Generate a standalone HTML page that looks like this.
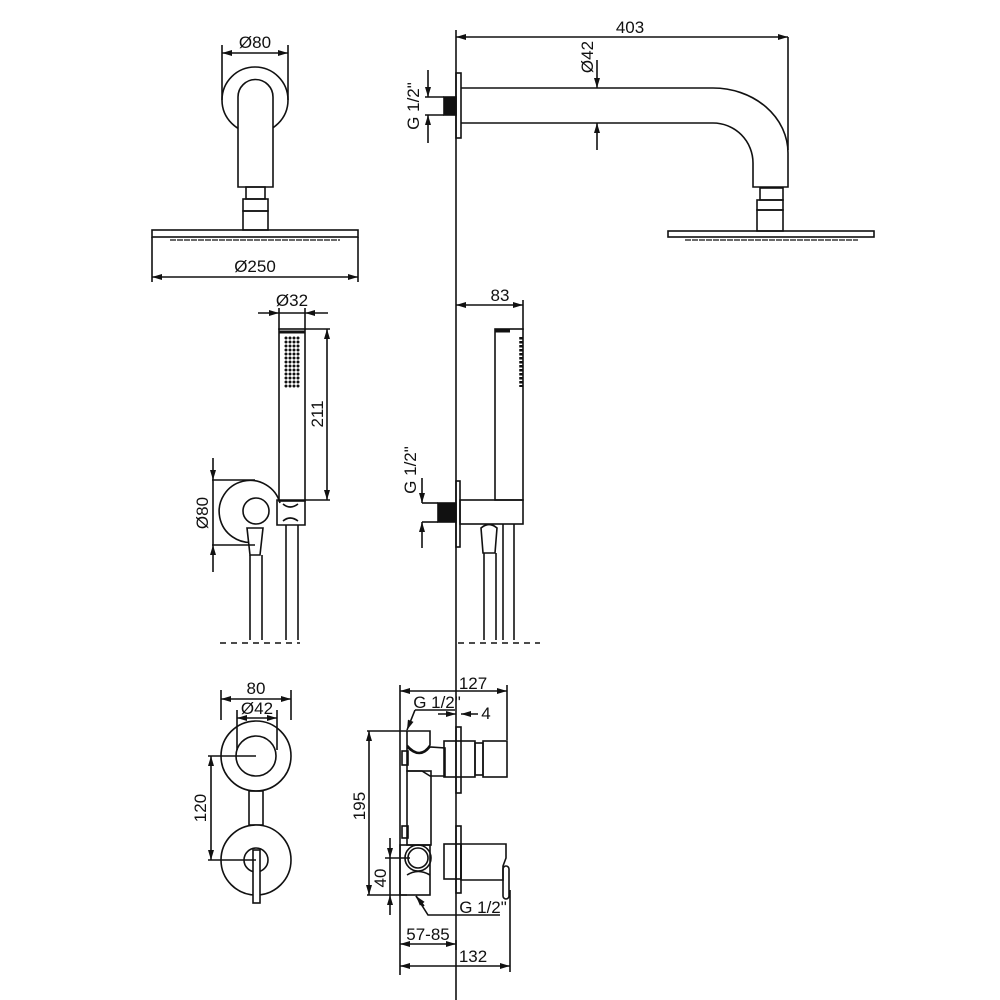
<!DOCTYPE html>
<html><head><meta charset="utf-8"><style>
html,body{margin:0;padding:0;background:#fff;width:1000px;height:1000px;overflow:hidden}
svg{display:block}
text{font-family:"Liberation Sans Narrow","Liberation Sans",sans-serif;font-size:17px;fill:#111;font-stretch:condensed}
</style></head><body>
<svg width="1000" height="1000" viewBox="0 0 1000 1000" xmlns="http://www.w3.org/2000/svg">
<defs>
<marker id="a" viewBox="0 0 10 6" refX="10" refY="3" markerWidth="11" markerHeight="6" orient="auto-start-reverse" markerUnits="userSpaceOnUse"><path d="M0,0L10,3L0,6z" fill="#111"/></marker>
<pattern id="dots" x="284" y="336" width="4" height="4" patternUnits="userSpaceOnUse"><circle cx="2" cy="2" r="1.5" fill="#111"/></pattern>
</defs>
<g fill="none" stroke="#111" stroke-width="1.6">
<line x1="222" y1="45" x2="222" y2="100"/><line x1="288" y1="45" x2="288" y2="100"/>
<line x1="222" y1="53" x2="288" y2="53" marker-start="url(#a)" marker-end="url(#a)"/>
<circle cx="255" cy="100" r="33"/>
<path d="M238,187V97a17.5,17.5 0 0 1 35,0V187z" fill="#fff"/>
<rect x="246" y="187" width="19" height="12"/><rect x="243" y="199" width="25" height="12"/><rect x="243" y="211" width="25" height="19"/>
<rect x="152" y="230" width="206" height="7"/>
<line x1="170" y1="240" x2="340" y2="240" stroke-dasharray="6 1" stroke-width="1.2"/>
<line x1="152" y1="237" x2="152" y2="282"/><line x1="358" y1="237" x2="358" y2="282"/>
<line x1="152" y1="277" x2="358" y2="277" marker-start="url(#a)" marker-end="url(#a)"/>

<line x1="456" y1="30" x2="456" y2="1000"/>
<line x1="456" y1="37" x2="788" y2="37" marker-start="url(#a)" marker-end="url(#a)"/>
<line x1="788" y1="37" x2="788" y2="150"/>
<rect x="456" y="73" width="5" height="65"/>
<rect x="444" y="97" width="12" height="18" fill="#111"/>
<line x1="425" y1="97" x2="444" y2="97"/><line x1="425" y1="115" x2="444" y2="115"/>
<line x1="428" y1="70" x2="428" y2="97" marker-end="url(#a)"/><line x1="428" y1="143" x2="428" y2="115" marker-end="url(#a)"/>
<path d="M461,88H713A75,65 0 0 1 788,153V187H753V163A40,40 0 0 0 713,123H461"/>
<line x1="597" y1="60" x2="597" y2="88" marker-end="url(#a)"/><line x1="597" y1="150" x2="597" y2="123" marker-end="url(#a)"/>
<rect x="760" y="188" width="23" height="12"/><rect x="757" y="200" width="26" height="10"/><rect x="757" y="210" width="26" height="21"/>
<rect x="668" y="231" width="206" height="6"/>
<line x1="685" y1="240" x2="858" y2="240" stroke-dasharray="6 1" stroke-width="1.2"/>

<line x1="279" y1="308" x2="279" y2="330"/><line x1="305" y1="308" x2="305" y2="330"/>
<line x1="258" y1="313" x2="279" y2="313" marker-end="url(#a)"/><line x1="328" y1="313" x2="305" y2="313" marker-end="url(#a)"/>
<line x1="279" y1="313" x2="305" y2="313"/>
<rect x="279" y="329" width="26" height="172"/>
<line x1="279" y1="332" x2="305" y2="332" stroke-width="3"/>
<rect x="284" y="336" width="16" height="52" fill="url(#dots)" stroke="none"/>
<line x1="305" y1="329" x2="330" y2="329"/><line x1="305" y1="500" x2="330" y2="500"/>
<line x1="327" y1="329" x2="327" y2="500" marker-start="url(#a)" marker-end="url(#a)"/>
<path d="M280,503A31,31 0 1 0 255,542" />
<circle cx="256" cy="511" r="13"/>
<path d="M277,500H305V525H277z"/><path d="M283,504Q290,510 298,504M283,521Q290,515 298,521"/>
<path d="M247,528H263L260,555H250z" fill="#fff"/>
<line x1="250" y1="555" x2="250" y2="640"/><line x1="262" y1="555" x2="262" y2="640"/>
<line x1="286" y1="525" x2="286" y2="640"/><line x1="298" y1="525" x2="298" y2="640"/>
<line x1="220" y1="643" x2="300" y2="643" stroke-dasharray="6 5"/>
<line x1="212" y1="480" x2="255" y2="480"/><line x1="212" y1="545" x2="255" y2="545"/>
<line x1="213" y1="458" x2="213" y2="480" marker-end="url(#a)"/><line x1="213" y1="572" x2="213" y2="545" marker-end="url(#a)"/>
<line x1="213" y1="480" x2="213" y2="545"/>

<line x1="456" y1="305" x2="523" y2="305" marker-start="url(#a)" marker-end="url(#a)"/>
<line x1="523" y1="300" x2="523" y2="330"/>
<rect x="495" y="329" width="28" height="171"/>
<line x1="495" y1="331" x2="510" y2="331" stroke-width="3"/>
<g stroke-width="3.5" stroke-dasharray="2.5 1.5"><line x1="521" y1="337" x2="521" y2="387"/></g>
<rect x="456" y="481" width="4" height="66"/>
<rect x="438" y="503" width="18" height="19" fill="#111"/>
<line x1="422" y1="503" x2="438" y2="503"/><line x1="422" y1="522" x2="438" y2="522"/>
<line x1="422" y1="478" x2="422" y2="503" marker-end="url(#a)"/><line x1="422" y1="548" x2="422" y2="522" marker-end="url(#a)"/>
<rect x="460" y="500" width="63" height="24"/>
<path d="M481,528Q489,521 497,528L495,553H483z" fill="#fff"/>
<line x1="484" y1="553" x2="484" y2="640"/><line x1="496" y1="553" x2="496" y2="640"/>
<line x1="503" y1="524" x2="503" y2="640"/><line x1="514" y1="524" x2="514" y2="640"/>
<line x1="458" y1="643" x2="540" y2="643" stroke-dasharray="6 5"/>

<line x1="221" y1="690" x2="221" y2="720"/><line x1="291" y1="690" x2="291" y2="720"/>
<line x1="221" y1="699" x2="291" y2="699" marker-start="url(#a)" marker-end="url(#a)"/>
<line x1="237" y1="710" x2="237" y2="750"/><line x1="277" y1="710" x2="277" y2="750"/>
<line x1="237" y1="718" x2="277" y2="718" marker-start="url(#a)" marker-end="url(#a)"/>
<circle cx="256" cy="756" r="35"/><circle cx="256" cy="756" r="20"/>
<rect x="249" y="791" width="14" height="34"/>
<circle cx="256" cy="860" r="35" fill="#fff"/><circle cx="256" cy="860" r="12"/>
<rect x="253" y="850" width="7" height="53" fill="#fff"/>
<line x1="208" y1="756" x2="256" y2="756"/><line x1="208" y1="860" x2="256" y2="860"/>
<line x1="211" y1="756" x2="211" y2="860" marker-start="url(#a)" marker-end="url(#a)"/>

<line x1="400" y1="685" x2="400" y2="975"/><line x1="507" y1="685" x2="507" y2="740"/>
<line x1="400" y1="691" x2="507" y2="691" marker-start="url(#a)" marker-end="url(#a)"/>
<line x1="415" y1="710" x2="455" y2="710"/><line x1="415" y1="710" x2="407" y2="730" marker-end="url(#a)"/>
<line x1="438" y1="714" x2="456" y2="714" marker-end="url(#a)"/><line x1="478" y1="714" x2="461" y2="714" marker-end="url(#a)"/>
<rect x="456" y="727" width="5" height="66"/><rect x="456" y="826" width="5" height="67"/>
<line x1="367" y1="731" x2="407" y2="731"/><line x1="367" y1="895" x2="407" y2="895"/>
<line x1="369" y1="731" x2="369" y2="895" marker-start="url(#a)" marker-end="url(#a)"/>
<path d="M407,731H430V745Q420,760 407,745z"/>
<path d="M407,747Q420,760 430,747L445,748V776H430L422,771H407z"/>
<rect x="402" y="751" width="6" height="14"/>
<rect x="407" y="771" width="24" height="74"/>
<rect x="402" y="826" width="6" height="12"/>
<rect x="444" y="741" width="31" height="36"/><rect x="475" y="743" width="8" height="32"/><rect x="483" y="741" width="24" height="36"/>
<rect x="400" y="845" width="30" height="50"/>
<circle cx="418" cy="858" r="13"/><circle cx="418" cy="858" r="10"/>
<path d="M407,875Q418,868 430,875"/>
<rect x="444" y="844" width="17" height="35"/>
<path d="M461,844H506V858L503,866V880H461z"/>
<rect x="503" y="866" width="6" height="33" rx="3"/>
<line x1="385" y1="858" x2="410" y2="858"/>
<line x1="390" y1="838" x2="390" y2="858" marker-end="url(#a)"/><line x1="390" y1="915" x2="390" y2="895" marker-end="url(#a)"/>
<line x1="390" y1="858" x2="390" y2="895"/>
<polyline points="500,915 428,915 416,896"/>
<line x1="424" y1="906" x2="416" y2="896" marker-end="url(#a)"/>
<line x1="456" y1="940" x2="456" y2="950"/>
<line x1="400" y1="944" x2="456" y2="944" marker-start="url(#a)" marker-end="url(#a)"/>
<line x1="510" y1="890" x2="510" y2="972"/>
<line x1="400" y1="966" x2="510" y2="966" marker-start="url(#a)" marker-end="url(#a)"/>
</g>
<g>
<text x="255" y="48" text-anchor="middle">Ø80</text>
<text x="255" y="272" text-anchor="middle">Ø250</text>
<text x="630" y="33" text-anchor="middle">403</text>
<text transform="translate(593,57) rotate(-90)" text-anchor="middle">Ø42</text>
<text transform="translate(419,106) rotate(-90)" text-anchor="middle">G 1/2"</text>
<text x="292" y="306" text-anchor="middle">Ø32</text>
<text transform="translate(323,414) rotate(-90)" text-anchor="middle">211</text>
<text transform="translate(208,513) rotate(-90)" text-anchor="middle">Ø80</text>
<text x="500" y="301" text-anchor="middle">83</text>
<text transform="translate(416,470) rotate(-90)" text-anchor="middle">G 1/2"</text>
<text x="256" y="694" text-anchor="middle">80</text>
<text x="257" y="714" text-anchor="middle">Ø42</text>
<text transform="translate(206,808) rotate(-90)" text-anchor="middle">120</text>
<text x="473" y="689" text-anchor="middle">127</text>
<text x="437" y="708" text-anchor="middle">G 1/2"</text>
<text x="486" y="719" text-anchor="middle">4</text>
<text transform="translate(365,806) rotate(-90)" text-anchor="middle">195</text>
<text transform="translate(386,878) rotate(-90)" text-anchor="middle">40</text>
<text x="483" y="913" text-anchor="middle">G 1/2"</text>
<text x="428" y="940" text-anchor="middle">57-85</text>
<text x="473" y="962" text-anchor="middle">132</text>
</g>
</svg>
</body></html>
